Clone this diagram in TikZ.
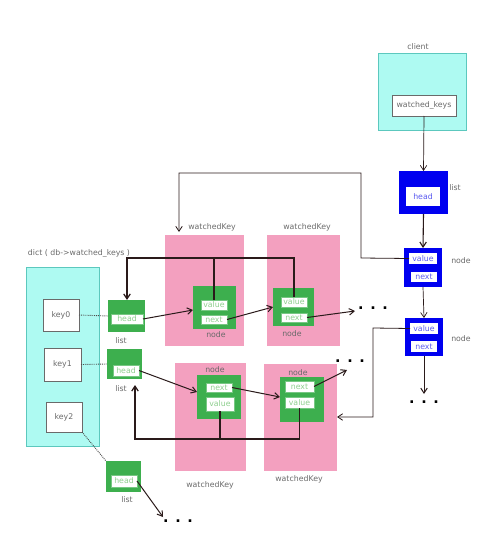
\documentclass[tikz,border=0pt]{standalone}
\usepackage{fontspec}
\setmainfont{DejaVu Sans}
\usetikzlibrary{arrows.meta}
\definecolor{cyanfill}{HTML}{AEFAF2}
\definecolor{cyanline}{HTML}{5CC8BE}
\definecolor{pinkfill}{HTML}{F3A0BF}
\definecolor{greenfill}{HTML}{3DAF4E}
\definecolor{greentext}{HTML}{8FCF8F}
\definecolor{bluefill}{HTML}{0000F0}
\definecolor{bluetext}{HTML}{5A5AF0}
\definecolor{labelgray}{HTML}{6A6A6A}
\definecolor{wire}{HTML}{2A1A1A}
\newcommand\bx[7]{\node (#1) [#6, minimum width={(#4-#2)*1pt}, minimum height={(#5-#3)*1pt}] at ({(#2+#4)/2},{(#3+#5)/2}) {#7};}
\begin{document}
\begin{tikzpicture}[x=1pt,y=-1pt,
  font=\fontsize{7.8}{9}\selectfont,
  every node/.style={inner sep=0pt, outer sep=0pt, text=labelgray},
  cyanbox/.style={draw=cyanline, fill=cyanfill, line width=0.7pt},
  whitebox/.style={draw=labelgray, fill=white, line width=0.5pt},
  pinkbox/.style={fill=pinkfill},
  greenbox/.style={fill=greenfill},
  ginner/.style={fill=white, draw=greenfill!70, line width=0.4pt, text=greentext},
  bluebox/.style={fill=bluefill},
  binner/.style={fill=white, text=bluetext},
  lbl/.style={text=labelgray},
  dots/.style={font=\bfseries\Large, text=black},
  arr/.style={-{Straight Barb[length=5pt,width=6.5pt]}, line width=1pt, draw=wire},
  wireline/.style={line width=1.2pt, draw=wire},
  dotline/.style={densely dotted, line width=0.9pt, draw=black!70}]
\useasboundingbox (0,0) rectangle (500,535);

% client
\bx{client}{378}{53}{466}{130}{cyanbox}{}
\node[lbl] (clientlbl) at (418,47) {client};
\bx{wk}{392}{95}{456}{116}{whitebox}{watched\_keys}

% blue list and nodes
\bx{bl}{399}{171}{448}{214}{bluebox}{}
\bx{blh}{406}{187}{440}{206}{binner}{head}
\node[lbl] (bllbl) at (455,188) {list};
\bx{bn1}{404}{248}{442}{287}{bluebox}{}
\bx{bn1v}{409}{253}{437}{264}{binner}{value}
\bx{bn1n}{411}{272}{437}{282}{binner}{next}
\node[lbl] (bn1lbl) at (461,261) {node};
\bx{bn2}{405}{318}{443}{356}{bluebox}{}
\bx{bn2v}{410}{323}{438}{334}{binner}{value}
\bx{bn2n}{411}{341}{437}{352}{binner}{next}
\node[lbl] (bn2lbl) at (461,339) {node};
\node[dots] (dotsb) at (424,402) {. . .};
\coordinate (dotsbtop) at (424,394);

% dict
\node[lbl] (dictlbl) at (79,253) {dict ( db->watched\_keys )};
\bx{dict}{26}{267}{99}{446}{cyanbox}{}
\bx{key0}{43}{299}{79}{331}{whitebox}{key0}
\bx{key1}{44}{348}{81}{381}{whitebox}{key1}
\bx{key2}{46}{402}{82}{432}{whitebox}{key2}

% lists
\bx{l0}{108}{300}{145}{332}{greenbox}{}
\bx{l0h}{111}{314}{143}{324}{ginner}{head}
\node[lbl] (l0lbl) at (121,341) {list};
\bx{l1}{107}{349}{142}{379}{greenbox}{}
\bx{l1h}{113}{365}{139}{376}{ginner}{head}
\node[lbl] (l1lbl) at (121,389) {list};
\bx{l2}{106}{461}{141}{492}{greenbox}{}
\bx{l2h}{111}{475}{137}{487}{ginner}{head}
\node[lbl] (l2lbl) at (127,500) {list};
\node[dots] (dotsl2) at (178,521) {. . .};

% pink watchedKey boxes (top)
\bx{pk1}{165}{235}{244}{346}{pinkbox}{}
\node[lbl] (pk1lbl) at (212,227) {watchedKey};
\bx{wn1}{193}{286}{236}{329}{greenbox}{}
\bx{wn1v}{201}{300}{227}{310}{ginner}{value}
\bx{wn1n}{201}{315}{227}{324}{ginner}{next}
\node[lbl] (wn1lbl) at (216,335) {node};

\bx{pk2}{267}{235}{340}{346}{pinkbox}{}
\node[lbl] (pk2lbl) at (307,227) {watchedKey};
\bx{wn2}{273}{288}{314}{326}{greenbox}{}
\bx{wn2v}{281}{297}{307}{307}{ginner}{value}
\bx{wn2n}{281}{313}{307}{322}{ginner}{next}
\node[lbl] (wn2lbl) at (292,334) {node};
\node[dots] (dotst) at (373,308) {. . .};

% pink watchedKey boxes (bottom)
\bx{pk3}{175}{363}{246}{471}{pinkbox}{}
\node[lbl] (pk3lbl) at (215,370) {node};
\node[lbl] (pk3wk) at (210,485) {watchedKey};
\bx{wn3}{197}{375}{241}{419}{greenbox}{}
\bx{wn3n}{206}{383}{232}{392}{ginner}{next}
\bx{wn3v}{206}{397}{234}{411}{ginner}{value}

\bx{pk4}{264}{364}{337}{471}{pinkbox}{}
\node[lbl] (pk4lbl) at (298,373) {node};
\node[lbl] (pk4wk) at (299,479) {watchedKey};
\bx{wn4}{280}{377}{324}{422}{greenbox}{}
\bx{wn4n}{285}{381}{314}{392}{ginner}{next}
\bx{wn4v}{285}{397}{314}{408}{ginner}{value}
\node[dots] (dotsr) at (350,361) {. . .};

% free ends
\coordinate (loopend) at (179,232);
\coordinate (toptrunk) at (127,258);
\coordinate (botend) at (135,385);
\coordinate (botl) at (135,439);
\coordinate (dn2) at (355,311);
\coordinate (dn4) at (347,370);
\coordinate (dl2) at (163,517);
\coordinate (loopA) at (361,258);
\coordinate (loopB) at (361,173);
\coordinate (loopC) at (179,173);
\coordinate (bvA) at (373,328);
\coordinate (bvB) at (373,417);

% blue chain
\draw[arr, line width=0.7pt] (wk.south) -- (bl.north);
\draw[arr, line width=1.1pt] (bl.south) -- (bn1.north);
\draw[arr, line width=0.7pt] (bn1.south) -- (bn2.north);
\draw[arr] (bn2.south) -- (dotsbtop);

% loops from blue node values
\draw[arr, line width=0.8pt] (bn1v.west) -- (loopA) -- (loopB) -- (loopC) -- (loopend);
\draw[arr, line width=0.8pt] (bn2v.west) -- (bvA) -- (bvB) -- (pk4.east |- bvB);

% top wire network
\draw[wireline] (wn1v.north) -- (wn1v.north |- toptrunk);
\draw[arr, line width=1.2pt] (wn2v.north) |- (toptrunk) -- (l0.north -| toptrunk);

% bottom wire network
\draw[wireline] (wn3v.south) -- (wn3v.south |- botl);
\draw[arr, line width=1.2pt] (wn4v.south) |- (botl) -- (botend);

% list chains
\draw[arr] (l0h.east) -- (wn1.west |- wn1v.south);
\draw[arr] (wn1n.east) -- (wn2.west |- wn2v.south);
\draw[arr] (wn2n.east) -- (dn2);
\draw[arr] (l1h.east) -- (wn3.west |- wn3n.south);
\draw[arr] (wn3n.east) -- (wn4.west |- wn4v.north);
\draw[arr] (wn4n.east) -- (dn4);
\draw[arr] (l2h.east) -- (dl2);

% dotted key links
\draw[dotline] (key0.east) -- (l0.west);
\draw[dotline] (key1.east) -- (l1.west);
\draw[dotline] (key2.south east) -- (l2.north west);
\end{tikzpicture}
\end{document}
